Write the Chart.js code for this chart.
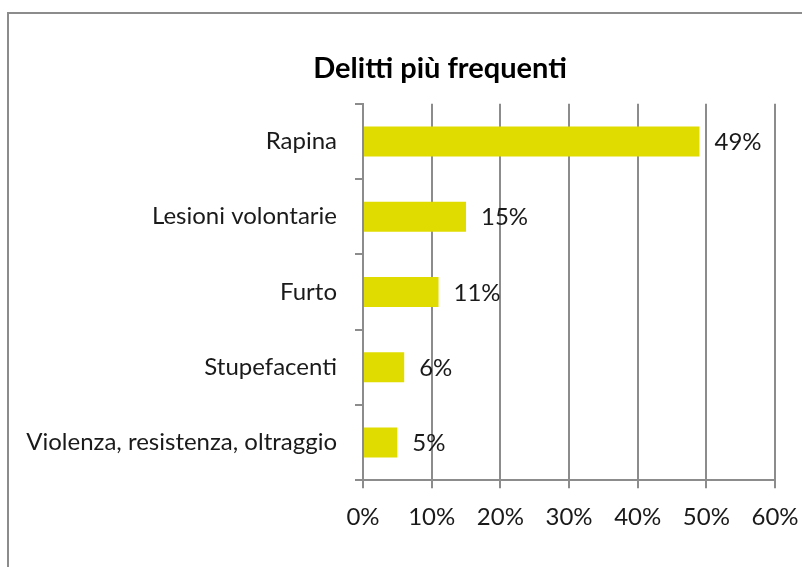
<!DOCTYPE html>
<html>
<head>
<meta charset="utf-8">
<script src="https://cdn.jsdelivr.net/npm/chart.js@4"></script>
<style>
    html, body { margin: 0; padding: 0; background: #fff; overflow: hidden; }
    #wrap { position: relative; width: 802px; height: 567px; overflow: hidden; }
    #frame { position: absolute; left: 7px; top: 12px; width: 900px; height: 700px; border: 2px solid #8c8c8c; box-sizing: border-box; }
    #chart { position: absolute; left: 0; top: 0; }
</style>
</head>
<body>
<div id="wrap">
    <div id="frame"></div>
    <!-- the original chart is wider than the window, so the canvas is too -->
    <canvas id="chart" width="880" height="567"></canvas>
</div>
<script>
// Delitti più frequenti - horizontal bar chart

const categories = ['Rapina', 'Lesioni volontarie', 'Furto', 'Stupefacenti', 'Violenza, resistenza, oltraggio'];
const values = [0.49, 0.15, 0.11, 0.06, 0.05];
const valueLabels = ['49%', '15%', '11%', '6%', '5%'];
const xTicks = [0, 0.1, 0.2, 0.3, 0.4, 0.5, 0.6];

const FONT = 'Lato, "Noto Sans", sans-serif';
const GRID_COLOR = '#8c8c8c';
const BAR_COLOR = '#e0dc00';

// Draws the value label to the right of each bar
const valueLabelPlugin = {
    id: 'valueLabels',
    afterDatasetsDraw(chart) {
        const ctx = chart.ctx;
        const meta = chart.getDatasetMeta(0);
        ctx.save();
        ctx.font = '24px ' + FONT;
        ctx.fillStyle = '#1a1a1a';
        ctx.textAlign = 'left';
        ctx.textBaseline = 'middle';
        meta.data.forEach(function(bar, i) {
            ctx.fillText(valueLabels[i], bar.x + 15, bar.y + 1);
        });
        ctx.restore();
    }
};

const ctx = document.getElementById('chart').getContext('2d');

const chart = new Chart(ctx, {
    type: 'bar',
    data: {
        labels: categories,
        datasets: [{
            data: values,
            backgroundColor: BAR_COLOR,
            borderWidth: 0,
            barPercentage: 1,
            categoryPercentage: 0.4
        }]
    },
    plugins: [valueLabelPlugin],
    options: {
        indexAxis: 'y',
        responsive: false,
        animation: false,
        devicePixelRatio: 1,
        layout: {
            padding: { left: 10, right: 10, top: 0, bottom: 20 }
        },
        plugins: {
            legend: { display: false },
            tooltip: { enabled: false },
            title: {
                display: true,
                text: 'Delitti più frequenti',
                color: '#000',
                font: { family: FONT, size: 29, weight: 'bold' },
                padding: { top: 51, bottom: 18 }
            }
        },
        scales: {
            x: {
                min: 0,
                max: 0.6,
                afterBuildTicks: function(scale) {
                    scale.ticks = xTicks.map(function(v) { return { value: v }; });
                },
                ticks: {
                    color: '#1a1a1a',
                    font: { family: FONT, size: 24 },
                    padding: 15,
                    callback: function(value) { return Math.round(value * 100) + '%'; }
                },
                grid: {
                    color: GRID_COLOR,
                    lineWidth: 2,
                    tickLength: 8,
                    drawTicks: true
                },
                border: { display: true, color: GRID_COLOR, width: 2 }
            },
            y: {
                afterFit: function(scale) { scale.width = 353; },
                ticks: {
                    color: '#1a1a1a',
                    font: { family: FONT, size: 24 },
                    padding: 18
                },
                grid: {
                    offset: true,
                    drawOnChartArea: false,
                    color: GRID_COLOR,
                    lineWidth: 2,
                    tickLength: 8
                },
                border: { display: true, color: GRID_COLOR, width: 2 }
            },
            // empty right-hand space, so the plot ends where the original does
            spacer: {
                axis: 'y',
                position: 'right',
                afterFit: function(scale) { scale.width = 95; },
                ticks: { display: false },
                grid: { display: false },
                border: { display: false }
            }
        }
    }
});
</script>
</body>
</html>
